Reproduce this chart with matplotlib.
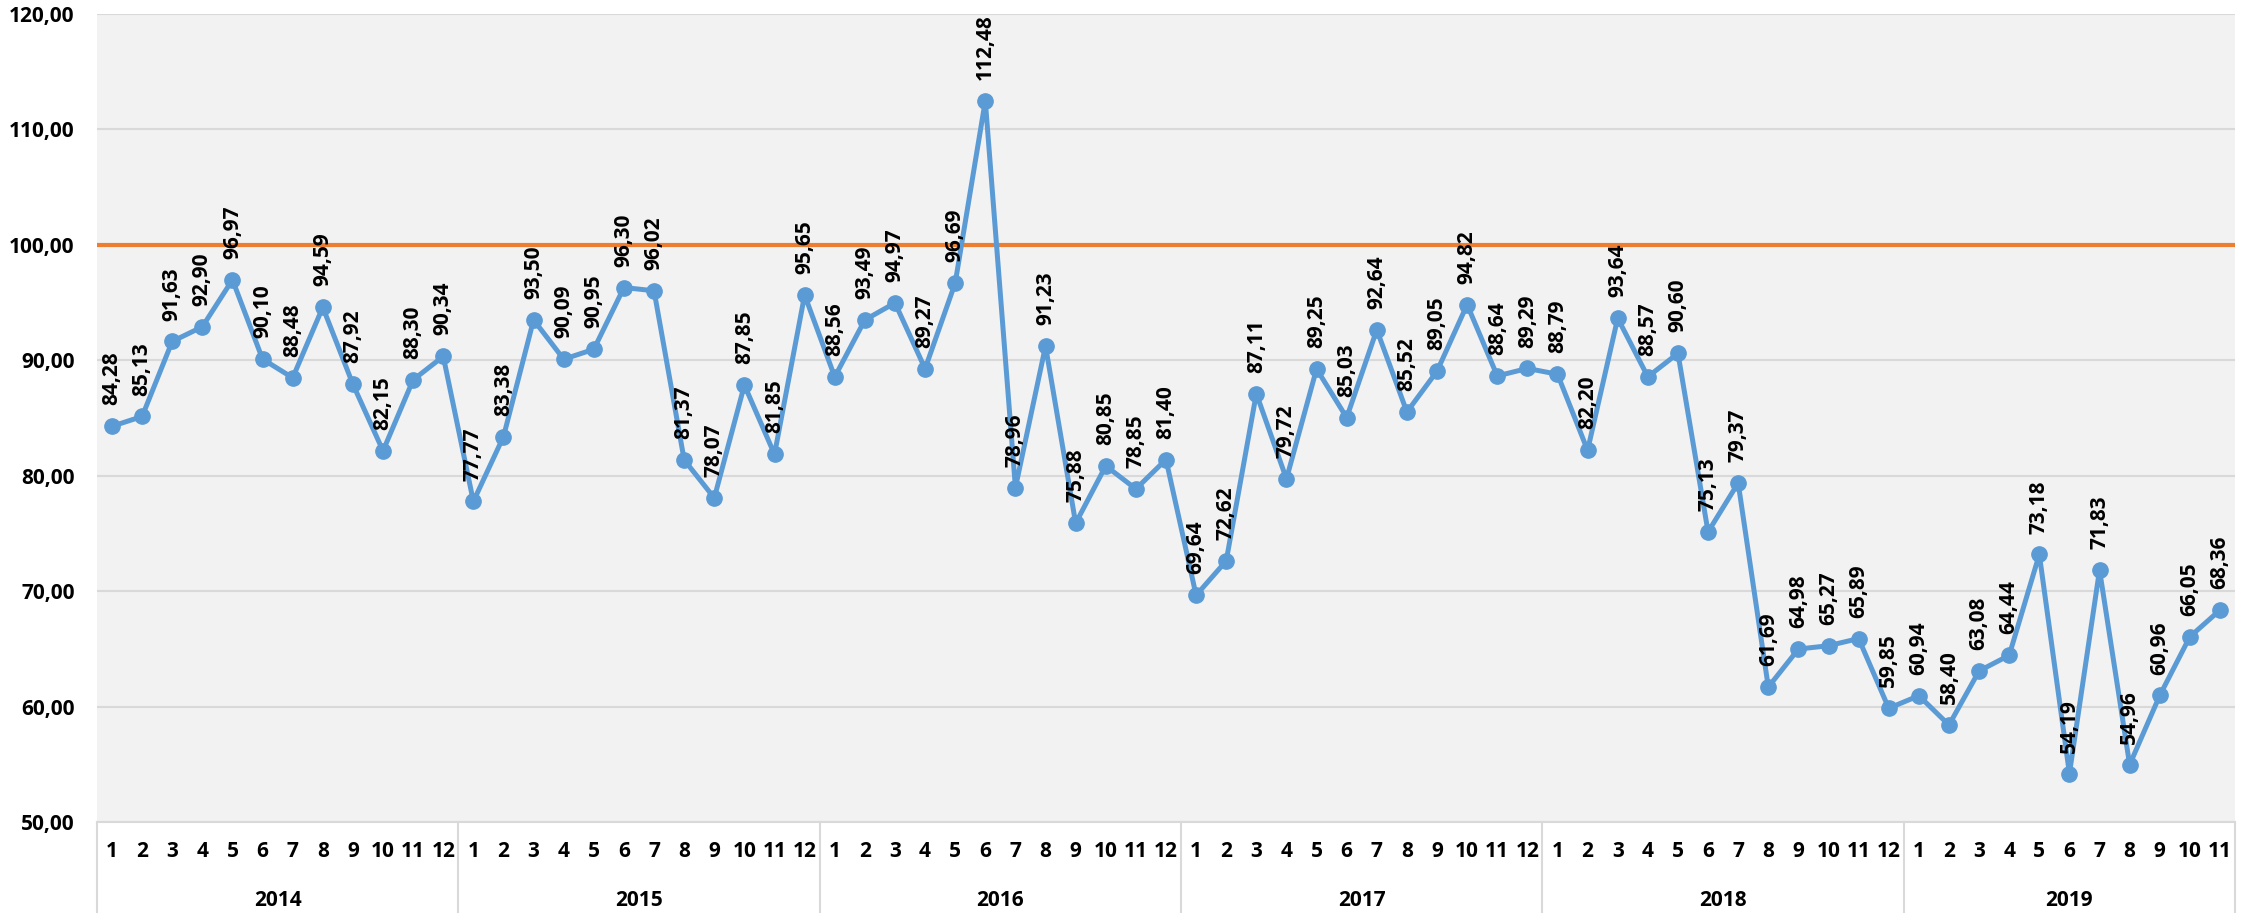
import matplotlib
matplotlib.use("Agg")
import matplotlib.pyplot as plt
import matplotlib.transforms as mtransforms

years = ["2014", "2015", "2016", "2017", "2018", "2019"]
months_per_year = [12, 12, 12, 12, 12, 11]

v2014 = [84.28, 85.13, 91.63, 92.90, 96.97, 90.10, 88.48, 94.59, 87.92, 82.15, 88.30, 90.34]
v2015 = [77.77, 83.38, 93.50, 90.09, 90.95, 96.30, 96.02, 81.37, 78.07, 87.85, 81.85, 95.65]
v2016 = [88.56, 93.49, 94.97, 89.27, 96.69, 112.48, 78.96, 91.23, 75.88, 80.85, 78.85, 81.40]
v2017 = [69.64, 72.62, 87.11, 79.72, 89.25, 85.03, 92.64, 85.52, 89.05, 94.82, 88.64, 89.29]
v2018 = [88.79, 82.20, 93.64, 88.57, 90.60, 75.13, 79.37, 61.69, 64.98, 65.27, 65.89, 59.85]
v2019 = [60.94, 58.40, 63.08, 64.44, 73.18, 54.19, 71.83, 54.96, 60.96, 66.05, 68.36]

target = 100.0

values = v2014 + v2015 + v2016 + v2017 + v2018 + v2019
month_labels = [str(m) for n in months_per_year for m in range(1, n + 1)]
x = list(range(len(values)))

plt.rcParams["font.family"] = ["Open Sans", "DejaVu Sans"]

fig = plt.figure(figsize=(22.49, 9.13), dpi=100)
ax = fig.add_axes([0.0431, 0.0997, 0.9507, 0.885])
ax.set_facecolor("#F2F2F2")

ax.set_ylim(50, 120)
ax.set_xlim(-0.5, len(values) - 0.5)
ax.set_yticks(range(50, 121, 10))
ax.set_yticklabels([f"{t:.2f}".replace(".", ",") for t in range(50, 121, 10)],
                   fontsize=15, fontweight="bold")
ax.grid(axis="y", color="#D9D9D9", lw=1.5)
ax.set_axisbelow(True)
for s in ["top", "right", "left"]:
    ax.spines[s].set_visible(False)
ax.spines["bottom"].set_color("#D9D9D9")
ax.spines["bottom"].set_linewidth(1.5)
ax.tick_params(axis="y", length=0, pad=16)
ax.tick_params(axis="x", length=0, pad=14)

ax.axhline(target, color="#ED7D31", lw=3, zorder=2)
ax.plot(x, values, "-o", color="#5B9BD5", lw=3.6, ms=11, zorder=3)

# rotated value labels above each point
for xi, v in zip(x, values):
    ax.annotate(f"{v:.2f}".replace(".", ","), (xi, v), xytext=(0, 15),
                textcoords="offset points", rotation=90, ha="center", va="bottom",
                fontsize=15, fontweight="bold", color="black", zorder=4)

ax.set_xticks(x)
ax.set_xticklabels(month_labels, fontsize=15, fontweight="bold")

# year groups below the month labels
trans = mtransforms.blended_transform_factory(ax.transData, ax.transAxes)
bounds = [-0.5]
for n in months_per_year:
    bounds.append(bounds[-1] + n)
for b in bounds:
    ax.plot([b, b], [0, -0.113], color="#D9D9D9", lw=1.5, transform=trans, clip_on=False)
for yr, a, b in zip(years, bounds[:-1], bounds[1:]):
    ax.text((a + b) / 2, -0.097, yr, transform=trans, ha="center", va="center",
            fontsize=15, fontweight="bold")

fig.savefig("out.png", dpi=100)
